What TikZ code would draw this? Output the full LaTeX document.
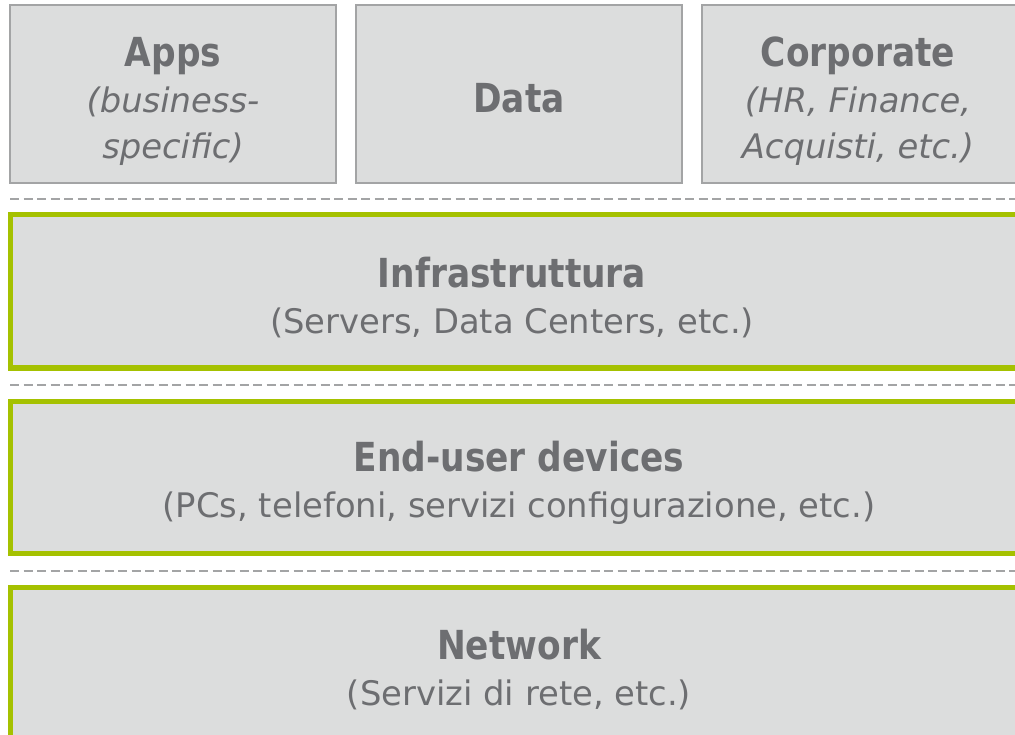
\documentclass[tikz,border=0pt]{standalone}
\usepackage{fontspec}
\setmainfont{DejaVu Sans}
\newfontfamily\headfamily{DejaVu Sans}[FakeStretch=0.86]

\definecolor{boxgray}{RGB}{220,221,221}
\definecolor{edgegray}{RGB}{163,164,165}
\definecolor{layergreen}{RGB}{165,193,0}
\definecolor{txtgray}{RGB}{109,110,113}

\newcommand{\ttlfont}{\headfamily\fontsize{40}{46}\selectfont\bfseries}

\begin{document}
\begin{tikzpicture}[
    x=1pt, y=-1pt,
    topbox/.style={fill=boxgray, draw=edgegray, line width=1.5pt},
    layerbox/.style={fill=boxgray, draw=layergreen, line width=5pt},
    sep/.style={draw=edgegray, line width=1.5pt, dash pattern=on 9pt off 4.5pt},
    lbl/.style={align=center, text=txtgray, font=\fontsize{33.8}{46}\selectfont}
]
    \useasboundingbox (0,0) rectangle (1015,735);
    \clip (0,0) rectangle (1015,735);

    % ---- business layer (top row) ----
    \draw[topbox] (10,5)  rectangle (336,183);
    \draw[topbox] (356,5) rectangle (682,183);
    \draw[topbox] (702,5) rectangle (1030,183);
    \node[lbl] (apps) at (173,101)
        {{\ttlfont Apps}\\\itshape(business-\\\itshape specific)};
    \node[lbl] (data) at (519,98) {{\ttlfont Data}};
    \node[lbl] (corp) at (858,101)
        {{\ttlfont Corporate}\\\itshape(HR, Finance,\\\itshape Acquisti, etc.)};

    % ---- separators ----
    \foreach \y in {199,385,571} {
        \draw[sep] (10,\y) -- (1015,\y);
    }

    % ---- infrastructure layers ----
    \draw[layerbox] (10.5,215) rectangle (1030,368);
    \node[lbl] (infra) at (512,298)
        {{\ttlfont Infrastruttura}\\(Servers, Data Centers, etc.)};

    \draw[layerbox] (10.5,401) rectangle (1030,553);
    \node[lbl] (devices) at (519,483)
        {{\ttlfont End-user devices}\\(PCs, telefoni, servizi configurazione, etc.)};

    \draw[layerbox] (10.5,587) rectangle (1030,760);
    \node[lbl] (network) at (519,670)
        {{\ttlfont Network}\\(Servizi di rete, etc.)};
\end{tikzpicture}
\end{document}
